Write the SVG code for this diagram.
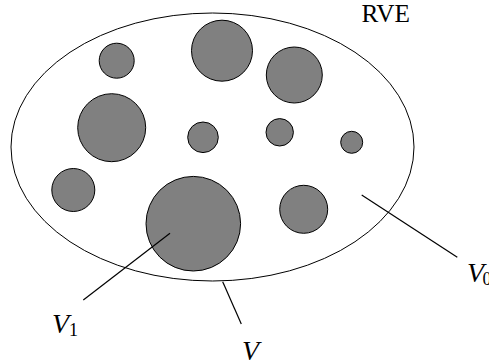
<svg xmlns="http://www.w3.org/2000/svg" width="489" height="363" viewBox="0 0 489 363">
<style>
.inc{fill:#808080;stroke:#000;stroke-width:1}
.ln{stroke:#000;stroke-width:1.2;fill:none}
.lbl{font-family:"Liberation Serif",serif;font-size:25px;fill:#000}
.it{font-style:italic;font-size:28px}
.sub{font-size:18px}
</style>
<rect width="489" height="363" fill="#fff"/>
<g id="rve">
<ellipse cx="212.5" cy="147" rx="201.5" ry="134" fill="#fff" stroke="#000" stroke-width="1"/>
<text class="lbl" x="361.5" y="21.7" textLength="48.5" lengthAdjust="spacingAndGlyphs">RVE</text>
</g>
<g id="inclusions">
<circle class="inc" cx="116.7" cy="60.7" r="17.5"/>
<circle class="inc" cx="222" cy="50.7" r="30.5"/>
<circle class="inc" cx="294.3" cy="75" r="28"/>
<circle class="inc" cx="111.7" cy="127.7" r="34"/>
<circle class="inc" cx="203" cy="137.3" r="15.3"/>
<circle class="inc" cx="279.7" cy="132.3" r="13.7"/>
<circle class="inc" cx="351.7" cy="142.3" r="11"/>
<circle class="inc" cx="73.3" cy="190" r="21.5"/>
<circle class="inc" cx="193.3" cy="223.7" r="47.3"/>
<circle class="inc" cx="303.7" cy="209.3" r="24"/>
</g>
<g id="connectors">
<line class="ln" x1="170" y1="233.3" x2="83.3" y2="300"/>
<line class="ln" x1="222.7" y1="281.7" x2="241.3" y2="324"/>
<line class="ln" x1="361.7" y1="195" x2="457.3" y2="257.3"/>
</g>
<g id="label-V1">
<text class="lbl it" x="52" y="332.5">V<tspan class="sub" font-style="normal" dy="3">1</tspan></text>
</g>
<g id="label-V">
<text class="lbl it" x="242" y="359.5">V</text>
</g>
<g id="label-V0">
<text class="lbl it" x="467" y="282">V<tspan class="sub" font-style="normal" dx="-1.5" dy="3">0</tspan></text>
</g>
</svg>
